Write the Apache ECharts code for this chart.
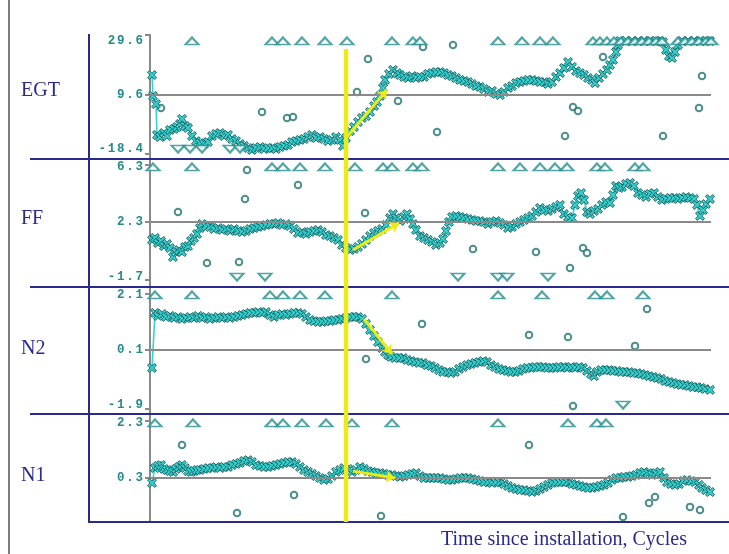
<!DOCTYPE html>
<html>
<head>
<meta charset="utf-8">
<script src="https://cdn.jsdelivr.net/npm/echarts@6/dist/echarts.min.js"></script>
<style>
  html, body { margin: 0; padding: 0; background: #ffffff; }
  #chart { width: 729px; height: 554px; }
</style>
</head>
<body>
<div id="chart"></div>
<script>
// ---- Engine trend data: parameter shift vs. time since installation (cycles) ----

const panelNames = ['EGT', 'FF', 'N2', 'N1'];

// Scale values per panel: [bottom, middle (reference), top]
const egtTicks = [-18.4, 9.6, 29.6];
const ffTicks  = [-1.7, 2.3, 6.3];
const n2Ticks  = [-1.9, 0.1, 2.1];
const n1Ticks  = [-1.7, 0.3, 2.3];

// Which of the three scale values are labelled
const egtShownTicks = [0, 1, 2];
const ffShownTicks  = [0, 1, 2];
const n2ShownTicks  = [0, 1, 2];
const n1ShownTicks  = [1, 2];

const cyclesMax = 5610;
const eventCycle = 1960;

// Smoothed/filtered trend points [cycle, value]
const egtTrend = [
  [20,17.0],[30,9.1],[60,4.9],[70,-11.1],[100,-12.2],[140,-10.1],[170,-11.7],[200,-8.5],[240,-8.0],[270,-7.0],
  [300,-5.4],[320,-2.8],[350,-6.5],[380,-7.5],[420,-11.7],[460,-14.3],[500,-15.3],[540,-15.8],[580,-14.8],[620,-11.7],
  [660,-10.6],[700,-10.1],[740,-11.7],[780,-11.1],[820,-13.2],[860,-14.3],[900,-15.8],[940,-16.8],[980,-17.9],[1020,-18.9],
  [1060,-17.9],[1100,-17.4],[1140,-18.4],[1180,-17.9],[1220,-17.9],[1260,-18.4],[1300,-17.4],[1340,-16.8],[1380,-16.3],[1420,-14.8],
  [1460,-14.3],[1500,-13.7],[1540,-13.2],[1580,-12.2],[1620,-11.1],[1660,-12.7],[1700,-12.2],[1740,-13.2],[1780,-14.3],[1820,-13.7],
  [1860,-12.2],[1900,-13.7],[1930,-16.8],[1960,-12.7],[2000,-9.1],[2040,-7.0],[2080,-4.4],[2120,-2.3],[2160,-1.3],[2200,0.8],
  [2240,3.9],[2270,6.0],[2300,9.1],[2330,12.2],[2350,15.2],[2390,17.4],[2430,18.9],[2470,17.7],[2500,17.0],[2540,16.3],
  [2580,15.9],[2620,16.6],[2660,15.9],[2700,16.3],[2740,16.3],[2780,17.4],[2820,17.7],[2860,18.1],[2900,18.1],[2940,17.7],
  [2980,17.0],[3020,16.6],[3060,15.9],[3100,15.2],[3140,14.8],[3180,14.4],[3220,13.7],[3260,12.9],[3300,12.6],[3340,11.8],
  [3380,10.7],[3420,11.1],[3460,10.0],[3500,9.6],[3540,10.7],[3580,12.2],[3620,12.9],[3660,14.0],[3700,14.4],[3740,14.8],
  [3780,15.2],[3820,15.2],[3860,14.8],[3900,14.4],[3940,14.4],[3980,13.7],[4020,14.4],[4060,16.3],[4100,17.7],[4140,19.6],
  [4180,21.8],[4220,20.0],[4260,18.5],[4300,17.7],[4340,17.0],[4380,15.9],[4420,15.2],[4450,14.0],[4490,15.9],[4530,17.4],
  [4570,18.9],[4600,20.7],[4630,22.6],[4660,25.5],[4680,28.1],[4700,29.6],[4760,29.6],[4820,29.6],[4880,29.6],[4940,29.6],
  [5000,29.6],[5060,29.6],[5100,29.6],[5130,29.2],[5160,26.3],[5190,24.0],[5220,23.3],[5250,25.5],[5280,28.1],[5320,29.6],
  [5380,29.6],[5440,29.6],[5500,29.6],[5560,29.6],[5600,29.6]
];
const ffTrend = [
  [20,0.99],[50,1.14],[80,0.77],[110,0.92],[140,0.55],[170,0.70],[200,0.41],[230,-0.25],[260,0.12],[290,0.26],
  [320,0.12],[350,0.48],[380,0.55],[410,0.92],[440,1.14],[470,1.43],[500,1.86],[520,2.15],[560,2.01],[600,1.94],
  [640,1.79],[680,1.86],[720,1.72],[760,1.79],[800,1.65],[840,1.79],[880,1.65],[920,1.57],[960,1.65],[1000,1.79],
  [1040,1.86],[1080,1.94],[1120,2.01],[1160,2.08],[1200,2.15],[1240,2.15],[1280,2.23],[1320,2.08],[1360,2.15],[1400,2.01],
  [1440,1.79],[1480,1.50],[1520,1.57],[1560,1.43],[1600,1.57],[1640,1.65],[1680,1.72],[1720,1.57],[1760,1.35],[1800,1.28],
  [1840,1.14],[1880,0.99],[1920,0.63],[1960,0.41],[2000,0.26],[2040,0.34],[2080,0.48],[2120,0.70],[2160,0.99],[2200,1.28],
  [2240,1.50],[2280,1.65],[2320,1.79],[2360,2.08],[2400,2.59],[2430,2.88],[2460,2.59],[2500,2.37],[2540,2.66],[2570,2.88],
  [2600,2.52],[2630,2.15],[2660,1.72],[2700,1.28],[2740,1.14],[2780,0.99],[2820,0.85],[2860,0.63],[2900,0.77],[2930,1.06],
  [2960,1.65],[2990,2.30],[3020,2.66],[3060,2.74],[3100,2.66],[3140,2.59],[3180,2.52],[3220,2.45],[3260,2.37],[3300,2.37],
  [3340,2.30],[3380,2.15],[3420,2.30],[3460,2.37],[3500,2.23],[3540,2.08],[3580,1.86],[3620,1.94],[3660,2.15],[3700,2.30],
  [3740,2.45],[3780,2.59],[3820,2.74],[3860,3.03],[3900,3.32],[3940,3.17],[3980,3.10],[4020,3.25],[4060,3.39],[4100,3.54],
  [4140,2.88],[4180,2.66],[4220,2.59],[4250,3.54],[4280,4.19],[4310,4.41],[4340,3.90],[4370,3.03],[4400,2.88],[4440,3.10],
  [4480,3.25],[4520,3.54],[4560,3.75],[4600,3.68],[4630,4.26],[4660,4.92],[4690,4.77],[4720,4.85],[4760,5.06],[4800,5.14],
  [4840,4.92],[4880,4.41],[4920,4.26],[4960,4.12],[5000,4.34],[5040,4.41],[5080,4.12],[5120,3.90],[5160,3.97],[5200,4.05],
  [5240,4.05],[5280,3.97],[5320,4.05],[5360,4.12],[5400,4.05],[5440,3.97],[5470,3.54],[5500,2.74],[5530,3.17],[5560,3.61],
  [5600,3.97]
];
const n2Trend = [
  [20,-0.55],[50,1.45],[80,1.34],[120,1.41],[160,1.30],[200,1.34],[240,1.26],[280,1.30],[320,1.23],[360,1.26],
  [400,1.30],[440,1.26],[480,1.34],[520,1.26],[560,1.30],[600,1.23],[640,1.26],[680,1.30],[720,1.26],[760,1.30],
  [800,1.26],[840,1.30],[880,1.34],[920,1.37],[960,1.41],[1000,1.45],[1040,1.45],[1080,1.48],[1120,1.45],[1160,1.48],
  [1200,1.37],[1240,1.30],[1280,1.37],[1320,1.41],[1360,1.37],[1400,1.41],[1440,1.45],[1480,1.45],[1520,1.41],[1560,1.30],
  [1600,1.19],[1640,1.15],[1680,1.12],[1720,1.12],[1760,1.15],[1800,1.15],[1840,1.19],[1880,1.19],[1920,1.23],[1960,1.26],
  [2000,1.30],[2040,1.30],[2080,1.30],[2120,1.23],[2160,1.05],[2200,0.83],[2240,0.61],[2280,0.39],[2320,0.17],[2350,0.03],
  [2380,-0.08],[2410,-0.15],[2450,-0.19],[2490,-0.19],[2530,-0.19],[2570,-0.26],[2610,-0.30],[2650,-0.34],[2690,-0.37],[2730,-0.37],
  [2770,-0.45],[2810,-0.48],[2850,-0.55],[2890,-0.63],[2930,-0.70],[2970,-0.70],[3010,-0.74],[3050,-0.70],[3090,-0.59],[3130,-0.52],
  [3170,-0.45],[3210,-0.41],[3250,-0.37],[3290,-0.34],[3330,-0.30],[3370,-0.34],[3410,-0.45],[3450,-0.52],[3490,-0.59],[3530,-0.63],
  [3570,-0.66],[3610,-0.70],[3650,-0.70],[3690,-0.66],[3730,-0.59],[3770,-0.55],[3810,-0.55],[3850,-0.52],[3890,-0.52],[3930,-0.52],
  [3970,-0.55],[4010,-0.55],[4050,-0.55],[4090,-0.52],[4130,-0.52],[4170,-0.55],[4210,-0.52],[4250,-0.55],[4290,-0.52],[4330,-0.55],
  [4370,-0.66],[4410,-0.77],[4440,-0.85],[4470,-0.70],[4510,-0.63],[4550,-0.63],[4590,-0.63],[4630,-0.66],[4670,-0.66],[4710,-0.70],
  [4750,-0.70],[4790,-0.70],[4830,-0.74],[4870,-0.74],[4910,-0.77],[4950,-0.81],[4990,-0.85],[5030,-0.88],[5070,-0.92],[5110,-0.95],
  [5150,-1.03],[5190,-1.06],[5230,-1.10],[5270,-1.14],[5310,-1.17],[5350,-1.17],[5390,-1.21],[5430,-1.25],[5470,-1.25],[5510,-1.28],
  [5550,-1.32],[5600,-1.35]
];
const n1Trend = [
  [20,0.12],[50,0.66],[80,0.74],[110,0.77],[140,0.63],[170,0.59],[200,0.55],[230,0.52],[260,0.63],[290,0.70],
  [320,0.77],[350,0.66],[380,0.55],[410,0.52],[440,0.55],[470,0.59],[500,0.59],[540,0.63],[580,0.66],[620,0.66],
  [660,0.70],[700,0.66],[740,0.70],[780,0.70],[820,0.77],[860,0.81],[900,0.85],[940,0.92],[980,0.95],[1020,0.88],
  [1060,0.77],[1100,0.74],[1140,0.70],[1180,0.70],[1220,0.74],[1260,0.77],[1300,0.81],[1340,0.85],[1380,0.88],[1420,0.88],
  [1460,0.81],[1500,0.70],[1540,0.59],[1580,0.52],[1620,0.45],[1660,0.37],[1700,0.30],[1740,0.23],[1780,0.26],[1820,0.37],
  [1860,0.52],[1900,0.59],[1940,0.66],[1980,0.63],[2020,0.52],[2060,0.59],[2100,0.70],[2140,0.63],[2180,0.55],[2220,0.52],
  [2260,0.48],[2300,0.48],[2340,0.45],[2380,0.41],[2420,0.41],[2460,0.37],[2500,0.34],[2540,0.37],[2580,0.41],[2620,0.45],
  [2660,0.48],[2700,0.37],[2740,0.30],[2780,0.30],[2820,0.30],[2860,0.30],[2900,0.30],[2940,0.26],[2980,0.23],[3020,0.23],
  [3060,0.26],[3100,0.30],[3140,0.30],[3180,0.30],[3220,0.26],[3260,0.23],[3300,0.19],[3340,0.15],[3380,0.15],[3420,0.12],
  [3460,0.15],[3500,0.15],[3540,0.08],[3580,0.01],[3620,-0.06],[3660,-0.10],[3700,-0.14],[3740,-0.14],[3780,-0.17],[3820,-0.21],
  [3860,-0.17],[3900,-0.10],[3940,-0.03],[3980,0.05],[4020,0.12],[4060,0.15],[4100,0.15],[4140,0.15],[4180,0.15],[4220,0.08],
  [4260,0.05],[4300,0.01],[4340,-0.03],[4380,-0.06],[4420,-0.06],[4460,-0.03],[4500,0.01],[4540,0.05],[4580,0.12],[4620,0.23],
  [4660,0.30],[4700,0.30],[4740,0.34],[4780,0.34],[4820,0.37],[4860,0.41],[4900,0.48],[4940,0.52],[4980,0.48],[5020,0.41],
  [5060,0.48],[5100,0.52],[5140,0.30],[5170,0.15],[5210,0.08],[5250,0.05],[5290,0.08],[5330,0.19],[5370,0.23],[5410,0.19],
  [5450,0.15],[5490,0.05],[5520,-0.06],[5560,-0.14],[5600,-0.21]
];

// Readings above the scale (drawn as up-triangles on the top line), by cycle
const egtHigh = [420,1220,1330,1520,1750,1970,2420,2630,2700,3480,3720,3900,4030,4430,4500,4570,4640,4710,4780,4850,4920,4990,5060,5120,5280,5350,5420,5490,5560,5610];
const ffHigh  = [30,420,1220,1330,1500,1750,2050,2330,2420,2630,2720,3480,3700,3900,4050,4170,4470,4550,4850,4930];
const n2High  = [50,420,1200,1330,1500,1750,2420,3480,3920,4450,4570,4930];
const n1High  = [50,430,1220,1330,1520,1760,2020,2420,3480,4180,4470,4560];

// Readings below the scale (down-triangles on the bottom line), by cycle
const egtLow = [280,400,520,800,900];
const ffLow  = [870,1150,3080,3480,3570,3980];
const n2Low  = [4730];
const n1Low  = [];

// Rejected raw readings (hollow circles) [cycle, value]
const egtOutliers = [[110,2.9],[1120,0.8],[1370,-2.3],[1430,-1.8],[2070,10.7],[2180,22.9],[2480,6.5],[2730,27.4],[3030,28.1],[2870,-9.6],[4530,23.7],[4230,3.4],[4280,1.3],[4150,-11.7],[5130,-11.7],[5520,16.6],[5490,2.9]];
const ffOutliers  = [[280,3.03],[570,-0.68],[890,-0.61],[970,6.08],[950,3.97],[1480,4.99],[2150,2.95],[3230,0.34],[3860,0.12],[4200,-1.05],[4330,0.41],[4370,0.05]];
const n2Outliers  = [[2720,1.05],[2160,-0.23],[4970,1.59],[3790,0.65],[4180,0.57],[4850,0.25],[4230,-1.94]];
const n1Outliers  = [[320,1.50],[870,-0.97],[1440,-0.32],[2310,-1.08],[3790,1.50],[4730,-1.12],[4990,-0.61],[5050,-0.39],[5400,-0.75],[5500,-0.86]];

// Detected step change after the event: [start, end] as [cycle, value]
const egtShift = [[1960,-12.7],[2370,11.5]];
const ffShift  = [[2030,0.26],[2490,2.23]];
const n2Shift  = [[2140,1.23],[2420,-0.05]];
const n1Shift  = [[2030,0.55],[2450,0.30]];

// ---- Presentation ----
const NAVY = '#2a2a8e';
const GRAY = '#8a8a8a';
const TEAL_TEXT = '#268a8a';
const CYAN = '#35d3d0';
const CYAN_EDGE = '#17585a';
const MARK_EDGE = '#217373';
const YELLOW = '#ecec14';

// Panel layout in pixels: plot band and distance of labelled scale values from band edges
const layout = [
  { top: 35,  height: 119, unit: 54, lowOffset: 5,   highOffset: 6, nameY: 91 },
  { top: 165, height: 115, unit: 55, lowOffset: 3,   highOffset: 2, nameY: 219 },
  { top: 294, height: 115, unit: 55, lowOffset: 4,   highOffset: 1, nameY: 349 },
  { top: 421, height: 101, unit: 55, lowOffset: -11, highOffset: 2, nameY: 476 }
];
const PLOT_LEFT = 150, PLOT_RIGHT = 18, CHART_H = 554;

const panels = [
  { ticks: egtTicks, shown: egtShownTicks, trend: egtTrend, high: egtHigh, low: egtLow, outliers: egtOutliers, shift: egtShift },
  { ticks: ffTicks,  shown: ffShownTicks,  trend: ffTrend,  high: ffHigh,  low: ffLow,  outliers: ffOutliers,  shift: ffShift },
  { ticks: n2Ticks,  shown: n2ShownTicks,  trend: n2Trend,  high: n2High,  low: n2Low,  outliers: n2Outliers,  shift: n2Shift },
  { ticks: n1Ticks,  shown: n1ShownTicks,  trend: n1Trend,  high: n1High,  low: n1Low,  outliers: n1Outliers,  shift: n1Shift }
];

// Each panel's scale is split at the reference value: bottom..mid -> 0..1, mid..top -> 1..2
function toScale(v, t) {
  return v >= t[1] ? 1 + (v - t[1]) / (t[2] - t[1]) : (v - t[0]) / (t[1] - t[0]);
}

const crossSymbol = 'path://M0,2L2,0L5,3L8,0L10,2L7,5L10,8L8,10L5,7L2,10L0,8L3,5Z';

const grids = [], xAxes = [], yAxes = [], series = [];

panels.forEach((p, i) => {
  const L = layout[i];
  const s = v => toScale(v, p.ticks);
  const yMin = -L.lowOffset / L.unit;
  const yMax = 2 + L.highOffset / L.unit;

  grids.push({ left: PLOT_LEFT, right: PLOT_RIGHT, top: L.top, height: L.height });
  xAxes.push({ gridIndex: i, type: 'value', min: 0, max: cyclesMax, show: false });
  yAxes.push({
    gridIndex: i, type: 'value', min: yMin, max: yMax,
    axisLine: { show: true, onZero: false, lineStyle: { color: GRAY, width: 2 } },
    axisTick: { show: true, customValues: [yMin, 1, yMax], length: 5, lineStyle: { color: GRAY, width: 2 } },
    axisLabel: {
      customValues: p.shown,
      margin: 6,
      formatter: v => String(p.ticks[Math.round(v)]).split('').map(ch => '{d|' + ch + '}').join(''),
      rich: {
        d: { width: 9.3, align: 'center', fontFamily: '"Liberation Mono", monospace', fontWeight: 'bold', fontSize: 12.5, color: TEAL_TEXT }
      }
    },
    splitLine: { show: false }
  });

  series.push(
    {
      type: 'scatter', xAxisIndex: i, yAxisIndex: i, z: 2,
      data: p.outliers.map(([c, v]) => [c, s(v)]),
      symbol: 'circle', symbolSize: 6.5,
      itemStyle: { color: '#ffffff', borderColor: MARK_EDGE, borderWidth: 2 },
      markLine: {
        silent: true, symbol: 'none', label: { show: false },
        lineStyle: { color: GRAY, width: 2, type: 'solid' },
        data: [{ yAxis: 1 }]
      }
    },
    {
      type: 'line', xAxisIndex: i, yAxisIndex: i, z: 3,
      data: p.trend.map(([c, v]) => [c, s(v)]),
      symbol: crossSymbol, symbolSize: 9, showSymbol: true,
      lineStyle: { color: CYAN, width: 1.6 },
      itemStyle: { color: CYAN, borderColor: CYAN_EDGE, borderWidth: 0.9 }
    },
    {
      type: 'scatter', xAxisIndex: i, yAxisIndex: i, z: 4,
      data: p.high.map(c => [c, s(p.ticks[2])]),
      symbol: 'triangle', symbolSize: [13, 7],
      itemStyle: { color: '#ffffff', borderColor: '#268f8f', borderWidth: 2 }
    },
    {
      type: 'scatter', xAxisIndex: i, yAxisIndex: i, z: 4,
      data: p.low.map(c => [c, s(p.ticks[0])]),
      symbol: 'triangle', symbolRotate: 180, symbolSize: [13, 7],
      itemStyle: { color: '#ffffff', borderColor: '#268f8f', borderWidth: 2 }
    },
    {
      type: 'lines', coordinateSystem: 'cartesian2d', xAxisIndex: i, yAxisIndex: i, z: 15,
      data: [{ coords: p.shift.map(([c, v]) => [c, s(v)]) }],
      symbol: ['none', 'arrow'], symbolSize: 9,
      lineStyle: { color: YELLOW, width: 3, opacity: 1 }
    }
  );
});

// Right frame line of the plot area
grids.push({ left: PLOT_LEFT, right: PLOT_RIGHT, top: 35, bottom: CHART_H - 522 });
xAxes.push({ gridIndex: 4, type: 'value', min: 0, max: cyclesMax, show: false });
yAxes.push({
  gridIndex: 4, type: 'value', min: 0, max: 1, position: 'right',
  axisLine: { show: true, lineStyle: { color: GRAY, width: 2 } },
  axisTick: { show: false }, axisLabel: { show: false }, splitLine: { show: false }
});

// Event marker (vertical) through all panels
grids.push({ left: PLOT_LEFT, right: PLOT_RIGHT, top: 49, bottom: CHART_H - 522 });
xAxes.push({ gridIndex: 5, type: 'value', min: 0, max: cyclesMax, show: false });
yAxes.push({ gridIndex: 5, type: 'value', min: 0, max: 1, show: false });
series.push({
  type: 'line', xAxisIndex: 5, yAxisIndex: 5, z: 20,
  data: [[eventCycle, 0], [eventCycle, 1]],
  symbol: 'none', lineStyle: { color: YELLOW, width: 4.5 }
});

// Frame and labels
const graphic = [
  { type: 'line', z: 1, shape: { x1: 9, y1: 0, x2: 9, y2: CHART_H }, style: { stroke: '#7d7d7d', lineWidth: 2 } },
  { type: 'line', z: 1, shape: { x1: 89, y1: 34, x2: 89, y2: 523 }, style: { stroke: NAVY, lineWidth: 2 } },
  { type: 'line', z: 1, shape: { x1: 30, y1: 159, x2: 729, y2: 159 }, style: { stroke: NAVY, lineWidth: 2 } },
  { type: 'line', z: 1, shape: { x1: 30, y1: 287, x2: 729, y2: 287 }, style: { stroke: NAVY, lineWidth: 2 } },
  { type: 'line', z: 1, shape: { x1: 30, y1: 414, x2: 729, y2: 414 }, style: { stroke: NAVY, lineWidth: 2 } },
  { type: 'line', z: 1, shape: { x1: 89, y1: 522, x2: 729, y2: 522 }, style: { stroke: NAVY, lineWidth: 2 } },
  {
    type: 'text', x: 441, y: 540, z: 5,
    style: { text: 'Time since installation, Cycles', fill: NAVY, font: '20px "Liberation Serif", serif', verticalAlign: 'middle' }
  }
];
panelNames.forEach((name, i) => {
  graphic.push({
    type: 'text', x: 21, y: layout[i].nameY, z: 5,
    style: { text: name, fill: NAVY, font: '20px "Liberation Serif", serif', verticalAlign: 'middle' }
  });
});

const chart = echarts.init(document.getElementById('chart'), null, { renderer: 'canvas' });
chart.setOption({
  backgroundColor: '#ffffff',
  animation: false,
  grid: grids,
  xAxis: xAxes,
  yAxis: yAxes,
  series: series,
  graphic: graphic
});
</script>
</body>
</html>
